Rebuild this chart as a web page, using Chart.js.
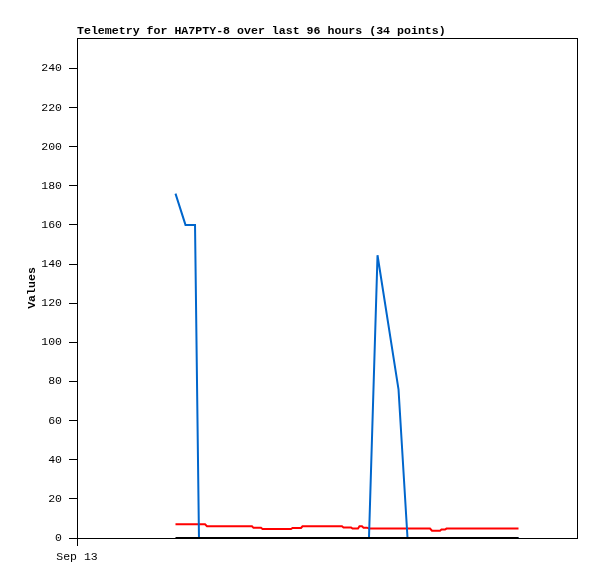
<!DOCTYPE html>
<html lang="en">
<head>
<meta charset="UTF-8">
<title>Telemetry for HA7PTY-8</title>
<script src="https://cdn.jsdelivr.net/npm/chart.js"></script>
<style>
  body { margin: 0; background: #fff; }
</style>
</head>
<body>
<canvas id="telemetry" width="597" height="579"></canvas>
<script>
// hours since Sep 13 00:00
const hours = [18.91, 20.83, 22.66, 23.42, 24.58, 24.96, 33.6, 33.89, 35.33, 35.62,
  41.09, 41.38, 43.01, 43.3, 50.88, 51.17, 52.61, 52.9, 53.95, 54.24,
  54.72, 55.01, 55.68, 56.06, 57.7, 61.73, 63.46, 67.78, 68.16, 69.7,
  69.98, 70.66, 70.94, 84.77];
const blueValues = [176, 160, 160, 0, 0, 0, 0, 0, 0, 0,
  0, 0, 0, 0, 0, 0, 0, 0, 0, 0,
  0, 0, 0, 0, 144.5, 76, 0, 0, 0, 0,
  0, 0, 0, 0];
const redValues = [7.0, 7.0, 7.0, 7.0, 7.0, 6.0, 6.0, 5.2, 5.2, 4.6,
  4.6, 5.1, 5.1, 6.0, 6.0, 5.4, 5.4, 4.8, 4.8, 6.0,
  6.0, 5.3, 5.3, 4.8, 4.8, 4.8, 4.8, 4.8, 3.7, 3.7,
  4.3, 4.3, 4.8, 4.8];
const blackValues = hours.map(() => 0);
const xTickLabels = ['Sep 13'];
const titleText = 'Telemetry for HA7PTY-8 over last 96 hours (34 points)';

const mono = '"Liberation Mono", "DejaVu Sans Mono", monospace';

function toPoints(vals) {
  return vals.map((v, i) => ({ x: hours[i], y: v }));
}

// frame around the plot, title and axis caption
const framePlugin = {
  id: 'frame',
  afterDraw(chart) {
    const { ctx, chartArea: a } = chart;
    ctx.save();
    ctx.strokeStyle = '#000';
    ctx.lineWidth = 1;
    ctx.strokeRect(a.left + 0.5, a.top + 0.5, a.right - a.left, a.bottom - a.top);
    ctx.fillStyle = '#000';
    ctx.font = 'bold 11.6px ' + mono;
    ctx.textAlign = 'left';
    ctx.textBaseline = 'alphabetic';
    ctx.fillText(titleText, a.left, a.top - 4);
    ctx.translate(32, (a.top + a.bottom) / 2);
    ctx.rotate(-Math.PI / 2);
    ctx.textAlign = 'center';
    ctx.textBaseline = 'middle';
    ctx.fillText('Values', 0, 0);
    ctx.restore();
  }
};

new Chart(document.getElementById('telemetry'), {
  type: 'line',
  data: {
    datasets: [
      { data: toPoints(blackValues), borderColor: '#000000', borderWidth: 2 },
      { data: toPoints(blueValues), borderColor: '#0066cc', borderWidth: 2 },
      { data: toPoints(redValues), borderColor: '#ff0000', borderWidth: 2 }
    ]
  },
  options: {
    responsive: false,
    animation: false,
    devicePixelRatio: 1,
    layout: { padding: { top: 38, right: 20, left: 0, bottom: 0 } },
    elements: { point: { radius: 0 }, line: { tension: 0 } },
    plugins: { legend: { display: false }, tooltip: { enabled: false } },
    scales: {
      x: {
        type: 'linear',
        min: 0,
        max: 96,
        afterBuildTicks: s => { s.ticks = [{ value: 0 }]; },
        afterFit: s => { s.height = 41; },
        border: { display: true, color: '#000', width: 1 },
        grid: { drawOnChartArea: false, color: '#000', tickLength: 8 },
        ticks: {
          color: '#000',
          padding: 4,
          maxRotation: 0,
          font: { family: mono, size: 11.5 },
          callback: (v, i) => xTickLabels[i] || ''
        }
      },
      y: {
        min: 0,
        max: 255.5,
        afterFit: s => { s.width = 77; },
        border: { display: true, color: '#000', width: 1 },
        grid: { drawOnChartArea: false, color: '#000', tickLength: 8 },
        ticks: {
          stepSize: 20,
          includeBounds: false,
          color: '#000',
          padding: 7,
          font: { family: mono, size: 11.5 }
        }
      }
    }
  },
  plugins: [framePlugin]
});
</script>
</body>
</html>
